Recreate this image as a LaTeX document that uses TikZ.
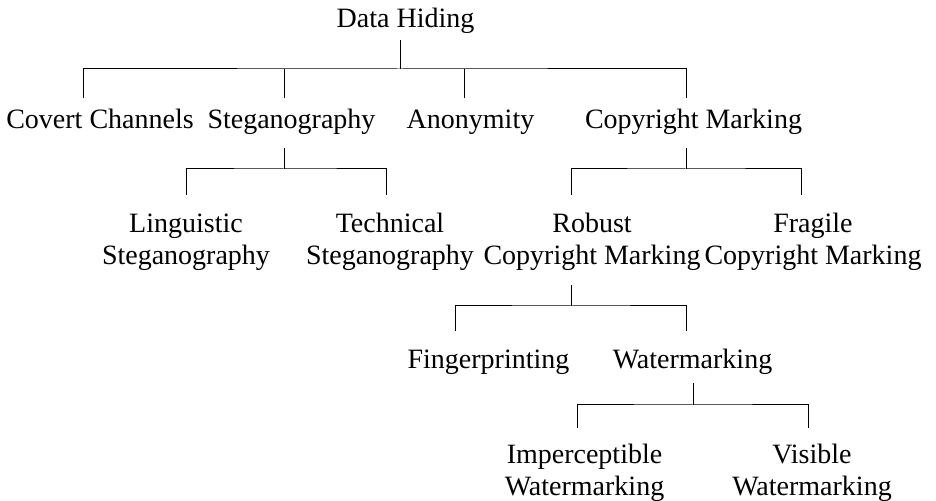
\documentclass[tikz,border=0pt]{standalone}
\usepackage{fontspec}
\setmainfont{Liberation Serif}
\usetikzlibrary{calc}

\begin{document}
\begin{tikzpicture}[x=0.5pt,y=-0.5pt,line width=0.5pt,
    item/.style={anchor=base,inner sep=0pt,align=center,
      font=\fontsize{14}{16}\selectfont}]
      \useasboundingbox (0,0) rectangle (936,501);
      % Draw the labels
      \node[item] (dh) at (405.5,28) {Data Hiding};
        \node[item] (cc) at (100,129) {Covert Channels};
        \node[item] (st) at (291.5,129) {Steganography};
        \node[item] (an) at (470.5,129) {Anonymity};
        \node[item] (cm) at (693.5,129) {Copyright Marking};
      \node[item] (ls) at (186,265) {Linguistic\\Steganography};
      \node[item] (ts) at (390,265) {Technical\\Steganography};
      \node[item] (rc) at (592,265) {Robust\\Copyright Marking};
      \node[item] (fc) at (813,265) {Fragile\\Copyright Marking};
        \node[item] (fp) at (488.5,369) {Fingerprinting};
        \node[item] (wm) at (692.5,369) {Watermarking};
      \node[item] (iw) at (584.5,495) {Imperceptible\\Watermarking};
      \node[item] (vw) at (812,495) {Visible\\Watermarking};
      % Draw the links
      \draw ($(dh.base)+(-5.5,12)$) -- ++(0,29) coordinate (j1);
      \draw ($(cc.base)+(-17,-31)$) |- (j1) -| ($(cm.base)+(-7.5,-31)$);
      \draw ($(st.base)+(-7.5,-31)$) -- ++(0,-29);
      \draw ($(an.base)+(-6.5,-31)$) -- ++(0,-29);
      \draw ($(st.base)+(-7.5,19)$) -- ++(0,21) coordinate (j2);
      \draw ($(ls.base)+(0,-70)$) |- (j2) -| ($(ts.base)+(-4,-70)$);
      \draw ($(cm.base)+(-7.5,19)$) -- ++(0,21) coordinate (j3);
      \draw ($(rc.base)+(-21,-70)$) |- (j3) -| ($(fc.base)+(-12,-70)$);
      \draw ($(rc.base)+(-20.5,20)$) -- ++(0,21) coordinate (j4);
      \draw ($(fp.base)+(-33.5,-38)$) |- (j4) -| ($(wm.base)+(-6.5,-38)$);
      \draw ($(wm.base)+(0.5,14)$) -- ++(0,22) coordinate (j5);
      \draw ($(iw.base)+(-7.5,-67)$) |- (j5) -| ($(vw.base)+(-4,-67)$);
\end{tikzpicture}
\end{document}
